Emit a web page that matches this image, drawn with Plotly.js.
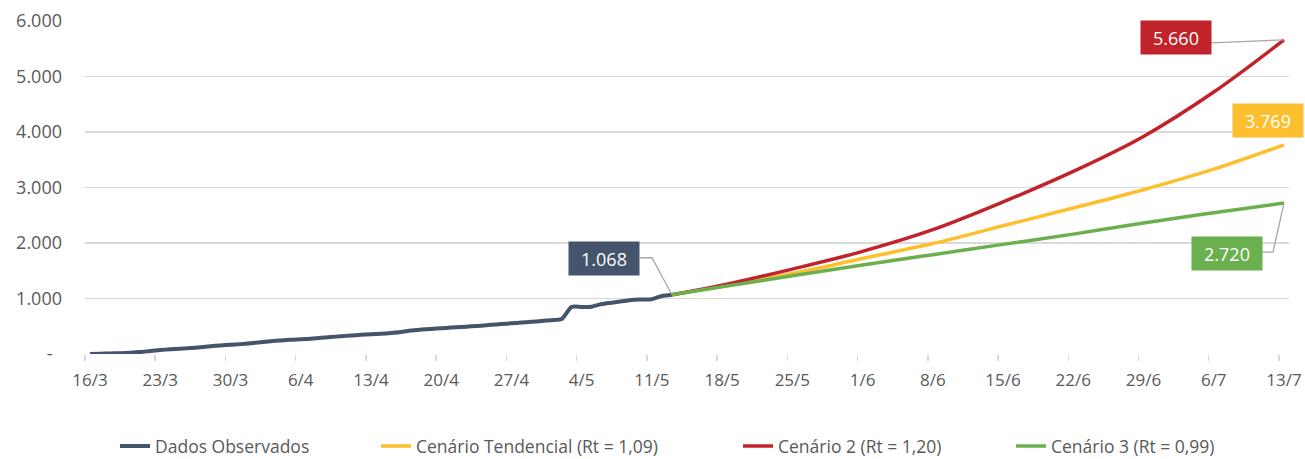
<!DOCTYPE html>
<html><head><meta charset="utf-8">
<script src="https://cdn.plot.ly/plotly-3.0.1.min.js"></script>
<style>html,body{margin:0;padding:0;background:#fff}#chart{width:1305px;height:459px}</style>
</head><body><div id="chart"></div>
<script>
// Category labels: one per day from 16/3 to 13/7
const firstDay = {year: 2020, month: 3, day: 16};
const nDays = 120;
const days = [];
for (let i = 0; i < nDays; i++) {
  const d = new Date(Date.UTC(firstDay.year, firstDay.month - 1, firstDay.day + i));
  days.push(d.getUTCDate() + '/' + (d.getUTCMonth() + 1));
}

// Observed daily values 16/3 .. 13/5
const observed = [2,5,9,14,22,35,55,72,85,95,108,122,140,155,165,178,195,212,230,245,
  258,265,275,292,306,320,333,345,355,365,378,395,425,440,452,464,476,487,498,510,
  525,540,552,566,580,595,610,630,850,848,852,900,925,950,975,982,988,1045,1068];

// Projection read points
const projDays   = ['13/5','18/5','25/5','1/6','8/6','15/6','22/6','29/6','6/7','13/7'];
const tendencial = [1068,1220,1450,1720,1990,2310,2630,2960,3330,3769];
const cenario2   = [1068,1240,1530,1850,2240,2740,3290,3920,4720,5660];
const cenario3   = [1068,1210,1410,1605,1790,1975,2160,2360,2545,2720];

const seriesNames = ['Dados Observados','Cenário Tendencial (Rt = 1,09)','Cenário 2 (Rt = 1,20)','Cenário 3 (Rt = 0,99)'];
const colors = {obs:'#44546a', tend:'#fdbf2d', c2:'#c1232b', c3:'#6ab04f'};

const yTickVals = [0,1000,2000,3000,4000,5000,6000];
const yTickText = ['-\u00a0\u00a0','1.000','2.000','3.000','4.000','5.000','6.000'];

const fmt = v => v.toLocaleString('de-DE');

const traces = [
  {x: days.slice(0, observed.length), y: observed, name: seriesNames[0], mode:'lines', legend:'legend',
   line:{color:colors.obs, width:4, shape:'spline', smoothing:0.6}},
  {x: projDays, y: tendencial, name: seriesNames[1], mode:'lines', legend:'legend2',
   line:{color:colors.tend, width:3.5, shape:'spline', smoothing:1}},
  {x: projDays, y: cenario2, name: seriesNames[2], mode:'lines', legend:'legend3',
   line:{color:colors.c2, width:3.5, shape:'spline', smoothing:1}},
  {x: projDays, y: cenario3, name: seriesNames[3], mode:'lines', legend:'legend4',
   line:{color:colors.c3, width:3.5, shape:'spline', smoothing:1}}
];

const lastObs = observed[observed.length - 1];
const lastDay = projDays[projDays.length - 1];
const obsDay = days[observed.length - 1];
const labelFont = {family:'Open Sans, sans-serif', size:18, color:'#ffffff'};
function box(x, y, color, xs, ys) {
  return {x:x, y:y, xref:'x', yref:'y', text: fmt(y), showarrow:false, bgcolor:color,
    font:labelFont, width:70, height:33, borderpad:0, xshift:xs, yshift:ys};
}
const annotations = [
  box(obsDay, lastObs, colors.obs, -68, 36),
  box(lastDay, cenario2[cenario2.length-1], colors.c2, -108, 2),
  box(lastDay, tendencial[tendencial.length-1], colors.tend, -16, 24),
  box(lastDay, cenario3[cenario3.length-1], colors.c3, -57, -50)
];
function leader(x, y, path) {
  return {type:'path', xref:'x', yref:'y', xsizemode:'pixel', ysizemode:'pixel',
    xanchor:x, yanchor:y, path:path, line:{color:'#a6a6a6', width:1.3}};
}
const shapes = [
  leader(obsDay, lastObs, 'M-32,37 L-20,37 L0,0'),
  leader(lastDay, cenario2[cenario2.length-1], 'M-73,-3 L0,0'),
  leader(lastDay, cenario3[cenario3.length-1], 'M-22,-49 L-11,-49 L0,0')
];

function leg(px) {
  return {orientation:'h', xref:'container', x:px/1305, xanchor:'left',
    yref:'container', y:0.028, yanchor:'middle', font:{size:17.5, color:'#595959'},
    bgcolor:'rgba(0,0,0,0)'};
}

const layout = {
  width:1305, height:459,
  margin:{l:85, r:16, t:21, b:105},
  paper_bgcolor:'#ffffff', plot_bgcolor:'#ffffff',
  font:{family:'Open Sans, sans-serif', size:18, color:'#595959'},
  xaxis:{type:'category', categoryorder:'array', categoryarray:days, range:[-0.5, nDays-0.5],
    tickmode:'linear', tick0:0, dtick:7, tickson:'boundaries', ticks:'outside', ticklen:6,
    tickcolor:'#d9d9d9', tickwidth:1.5, showgrid:false, showline:false, zeroline:false,
    tickangle:0, ticklabelstandoff:14, tickfont:{size:17, color:'#595959'}},
  yaxis:{range:[0,6000], tickmode:'array', tickvals:yTickVals, ticktext:yTickText,
    showgrid:true, gridcolor:'#d9d9d9', gridwidth:1.5, zeroline:false, showline:false,
    ticks:'', ticklabelstandoff:22, tickfont:{size:18, color:'#595959'}},
  showlegend:true,
  legend: leg(115), legend2: leg(376), legend3: leg(738), legend4: leg(1011),
  annotations: annotations,
  shapes: shapes
};

Plotly.newPlot('chart', traces, layout, {displayModeBar:false, staticPlot:true});
</script>
</body></html>
